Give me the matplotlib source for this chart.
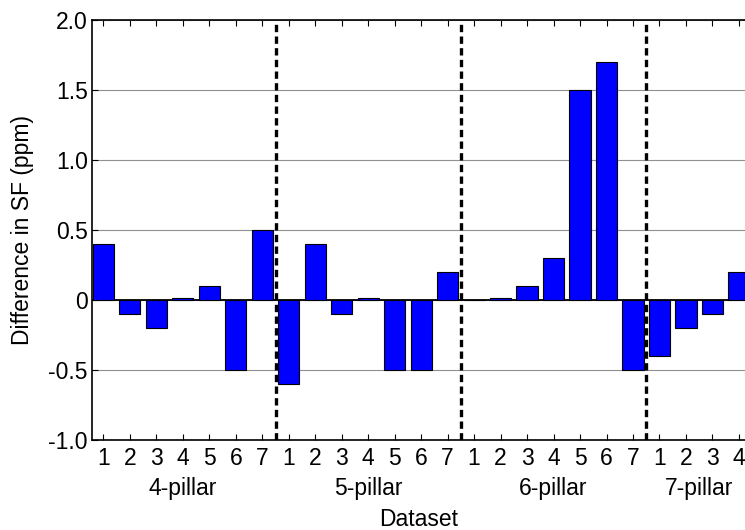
import matplotlib
matplotlib.use("Agg")
import matplotlib.pyplot as plt

plt.rcParams["font.family"] = ["Liberation Sans", "DejaVu Sans"]
plt.rcParams["axes.unicode_minus"] = False

# Difference in SF per dataset, grouped by pillar count
groups = ["4-pillar", "5-pillar", "6-pillar", "7-pillar"]
vals_4 = [0.4, -0.1, -0.2, 0.015, 0.1, -0.5, 0.5]
vals_5 = [-0.6, 0.4, -0.1, 0.015, -0.5, -0.5, 0.2]
vals_6 = [0.002, 0.015, 0.1, 0.3, 1.5, 1.7, -0.5]
vals_7 = [-0.4, -0.2, -0.1, 0.2]
y_ticks = [-1.0, -0.5, 0, 0.5, 1.0, 1.5, 2.0]
y_labels = ["-1.0", "-0.5", "0", "0.5", "1.0", "1.5", "2.0"]

series = [vals_4, vals_5, vals_6, vals_7]
values = [v for s in series for v in s]
tick_labels = [str(i + 1) for s in series for i in range(len(s))]
x = list(range(1, len(values) + 1))

fs = 16.5

fig = plt.figure(figsize=(7.45, 5.3), dpi=100)
ax = fig.add_axes([0.1235, 0.170, 0.8765, 0.792])

ax.grid(axis="y", color="#909090", linewidth=0.8)
ax.set_axisbelow(True)
ax.axhline(0, color="black", linewidth=1.3, zorder=1)
ax.bar(x, values, width=0.8, color="#0000ff", edgecolor="black", linewidth=0.8, zorder=2)

# group separators and group centres
start = 0
centers = []
for s in series:
    centers.append(start + (len(s) + 1) / 2)
    start += len(s)
    if start < len(values):
        ax.axvline(start + 0.5, color="black", linewidth=2.4, dashes=(2.2, 1.3), zorder=3)

ax.set_xlim(0.57, 25.23)
ax.set_ylim(-1.0, 2.0)
ax.set_xticks(x)
ax.set_xticklabels(tick_labels)
ax.set_yticks(y_ticks)
ax.set_yticklabels(y_labels)
ax.tick_params(axis="both", direction="in", labelsize=fs, length=4, width=0.8)
ax.tick_params(axis="x", top=True, pad=5)
ax.tick_params(axis="y", pad=3)
ax.spines["right"].set_visible(False)
for sp in ["left", "top", "bottom"]:
    ax.spines[sp].set_linewidth(1.2)

for c, g in zip(centers, groups):
    ax.text(c, -0.131, g, transform=ax.get_xaxis_transform(), ha="center", va="baseline", fontsize=fs)

ax.set_xlabel("Dataset", fontsize=fs)
ax.xaxis.label.set_verticalalignment("baseline")
ax.xaxis.set_label_coords(0.5, -0.205)
ax.set_ylabel("Difference in SF (ppm)", fontsize=fs)
ax.yaxis.label.set_verticalalignment("center")
ax.yaxis.set_label_coords(-0.106, 0.5)

fig.savefig("out.png", dpi=100)
